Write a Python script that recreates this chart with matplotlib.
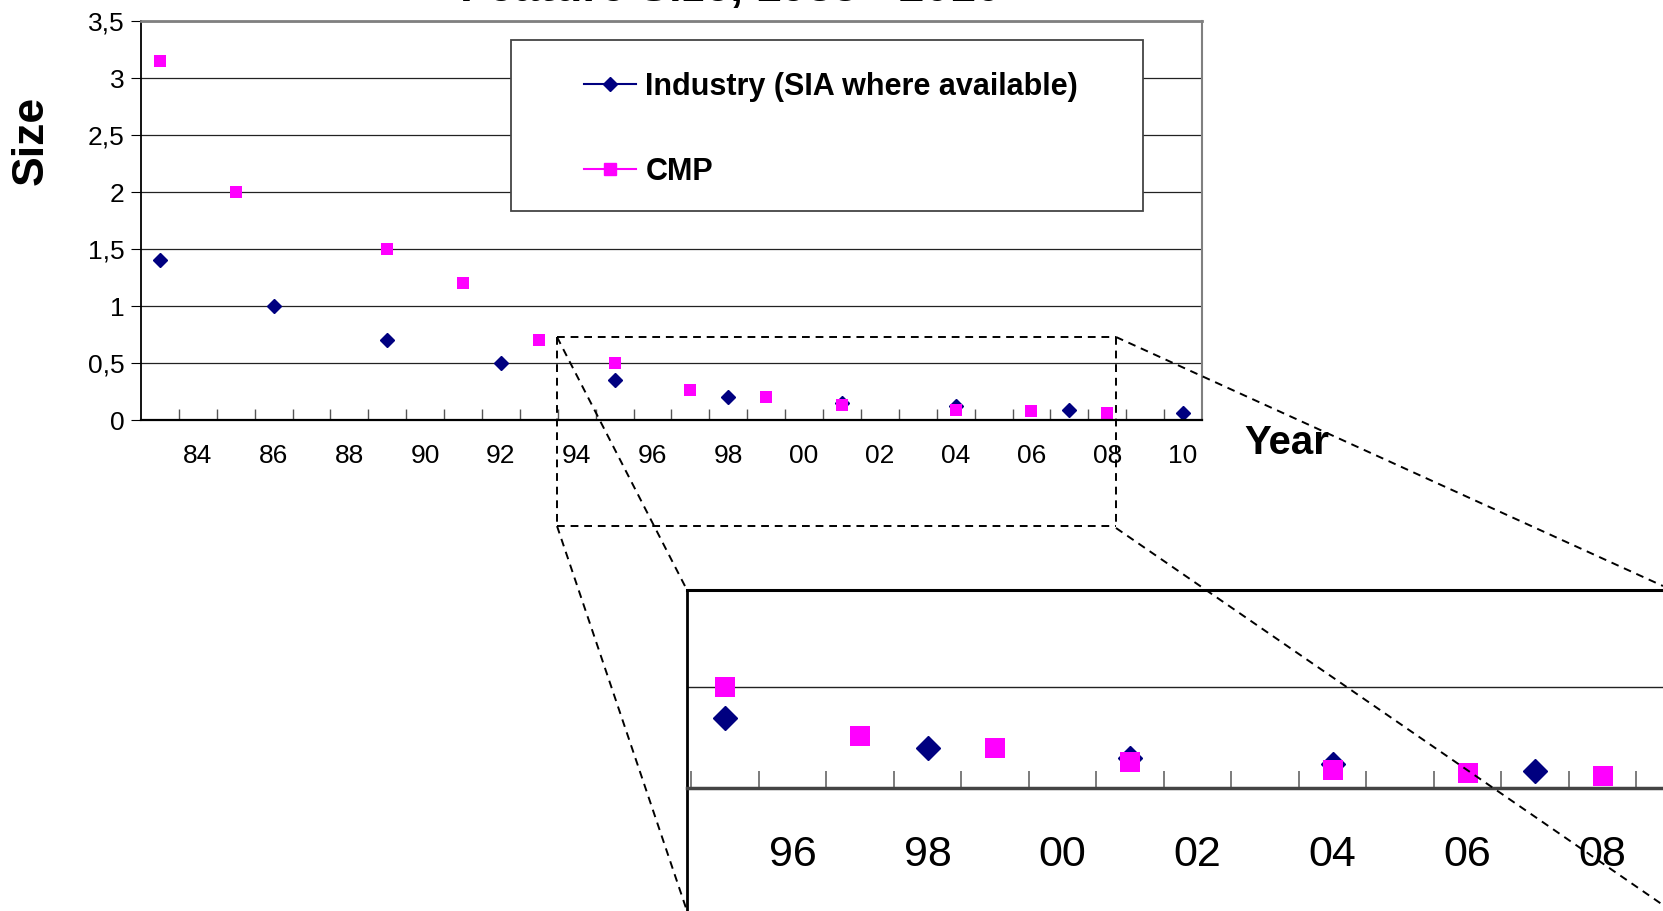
import matplotlib.pyplot as plt
from matplotlib.lines import Line2D
from matplotlib.patches import Rectangle

plt.rcParams['font.family'] = ['Liberation Sans', 'DejaVu Sans']

# data
industry_years = [1983, 1986, 1989, 1992, 1995, 1998, 2001, 2004, 2007, 2010]
industry_size = [1.4, 1.0, 0.7, 0.5, 0.35, 0.2, 0.15, 0.12, 0.085, 0.065]

cmp_years = [1983, 1985, 1989, 1991, 1993, 1995, 1997, 1999, 2001, 2004, 2006, 2008]
cmp_size = [3.15, 2.0, 1.5, 1.2, 0.7, 0.5, 0.26, 0.2, 0.13, 0.09, 0.075, 0.06]

year_ticks = list(range(1984, 2011, 2))
year_labels = ['84', '86', '88', '90', '92', '94', '96', '98', '00', '02', '04', '06', '08', '10']
size_ticks = [0, 0.5, 1, 1.5, 2, 2.5, 3, 3.5]
size_labels = ['0', '0,5', '1', '1,5', '2', '2,5', '3', '3,5']
zoom_ticks = list(range(1996, 2009, 2))
zoom_labels = ['96', '98', '00', '02', '04', '06', '08']

labels = ['Industry (SIA where available)', 'CMP']
navy = '#000080'
pink = '#ff00ff'

W, H = 1663, 911


def fx(px):
    return px / W


def fy(py):
    return 1 - py / H


fig = plt.figure(figsize=(W / 100, H / 100), dpi=100)

# main chart
ax = fig.add_axes([fx(141), fy(420), fx(1202) - fx(141), fy(21) - fy(420)])
ax.plot(industry_years, industry_size, linestyle='none', marker='D',
        color=navy, markersize=7)
ax.plot(cmp_years, cmp_size, linestyle='none', marker='s',
        color=pink, markersize=8.3, markeredgewidth=0)
ax.set_xlim(1982.5, 2010.5)
ax.set_ylim(0, 3.5)
ax.set_yticks(size_ticks, size_labels)
ax.set_xticks(year_ticks, year_labels)
ax.set_xticks([y + 0.5 for y in range(1983, 2010)], minor=True)
ax.tick_params(axis='x', which='major', length=0, pad=17, labelsize=19)
ax.tick_params(axis='x', which='minor', direction='in', length=8, width=1, color='#555555')
ax.tick_params(axis='y', direction='out', length=7, pad=5, labelsize=19)
ax.grid(axis='y', color='#222222', linewidth=0.9)
ax.set_axisbelow(True)
ax.spines['top'].set_color('#808080')
ax.spines['top'].set_linewidth(2)
ax.spines['right'].set_color('#808080')
ax.spines['right'].set_linewidth(1.5)
ax.spines['left'].set_linewidth(1.3)
ax.spines['bottom'].set_linewidth(1.6)

fig.text(fx(31), fy(140), 'Size', rotation=90, fontsize=32, fontweight='bold',
         ha='center', va='center')
fig.text(fx(1287), fy(454), 'Year', fontsize=29, fontweight='bold',
         ha='center', va='baseline')
fig.text(fx(731), fy(1.3), 'Feature Size, 1983 - 2010', fontsize=33, fontweight='bold',
         ha='center', va='baseline')

# legend box
fig.add_artist(Rectangle((fx(511), fy(211)), fx(1143) - fx(511), fy(40) - fy(211),
                         transform=fig.transFigure, facecolor='white',
                         edgecolor='#444444', linewidth=1.3, zorder=3))
handles = [Line2D([], [], color=navy, marker='D', markersize=7, linewidth=1.5),
           Line2D([], [], color=pink, marker='s', markersize=8, linewidth=1.5)]
fig.legend(handles, labels, loc='center left', bbox_to_anchor=(fx(569), fy(129)),
           frameon=False, borderpad=0, handlelength=1.7, handletextpad=0.3,
           labelspacing=1.8, prop={'weight': 'bold', 'size': 22})

# zoomed view of 1995-2008
ins = fig.add_axes([fx(687), 0, 1 - fx(687), fy(590)])
ins.plot(industry_years, industry_size, linestyle='none', marker='D',
         color=navy, markersize=12)
ins.plot(cmp_years, cmp_size, linestyle='none', marker='s',
         color=pink, markersize=15, markeredgewidth=0)
ins.set_xlim(1994.437, 1994.437 + 976 / 67.5)
ins.set_ylim(0.985 - 321 / 200.8, 0.985)
ins.set_yticks([])
ins.axhline(0.5, color='#222222', linewidth=1, zorder=1)
ins.set_xticks(zoom_ticks, zoom_labels)
ins.set_xticks([y + 0.5 for y in range(1994, 2009)], minor=True)
ins.spines['bottom'].set_position(('data', 0))
ins.spines['bottom'].set_color('#444444')
ins.spines['bottom'].set_linewidth(2.5)
ins.spines['right'].set_visible(False)
ins.spines['left'].set_linewidth(2)
ins.spines['top'].set_linewidth(2.2)
ins.tick_params(axis='x', which='major', length=0, pad=34, labelsize=31)
ins.tick_params(axis='x', which='minor', direction='in', length=12, width=1.2, color='#666666')

# dashed callout
dash = dict(color='black', linestyle=(0, (4, 3)), linewidth=1.4, transform=fig.transFigure, zorder=6)
callout = [((557, 1116), (337, 337)), ((1116, 1116), (337, 526)), ((557, 1116), (526, 526)),
           ((557, 557), (337, 526)), ((557, 687), (337, 590)), ((557, 687), (526, 911)),
           ((1116, 1663), (337, 586)), ((1116, 1663), (528, 905))]
for xs, ys in callout:
    fig.add_artist(Line2D([fx(x) for x in xs], [fy(y) for y in ys], **dash))

fig.savefig('out.png', dpi=100)
